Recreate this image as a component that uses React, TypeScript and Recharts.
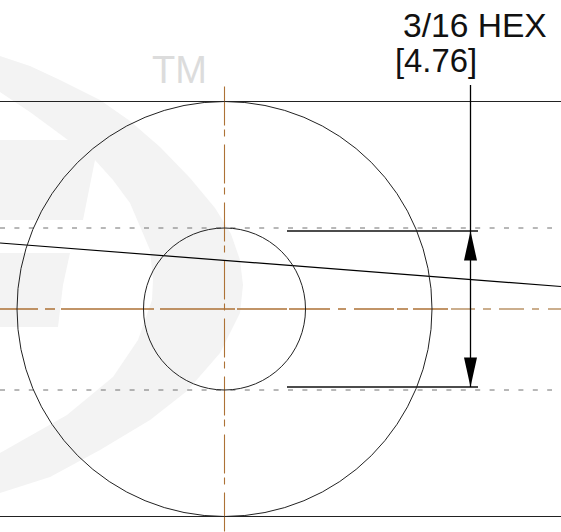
import { ScatterChart, Scatter, XAxis, YAxis, ReferenceDot } from 'recharts';

type Pt = { x: number; y: number; text?: string };

const BLACK = '#222222';
const ORANGE = '#ad7236';
const TAN = '#bb9468';

// watermark outlines
const swooshOutline: Pt[] = [
  { x: 0, y: 56 }, { x: 30, y: 66 }, { x: 60, y: 80 }, { x: 100, y: 100 }, { x: 130, y: 121 },
  { x: 160, y: 147 }, { x: 190, y: 178 }, { x: 215, y: 208 }, { x: 231, y: 234 }, { x: 240, y: 260 },
  { x: 243, y: 285 }, { x: 240, y: 313 }, { x: 220, y: 353 }, { x: 187, y: 391 }, { x: 150, y: 420 },
  { x: 100, y: 450 }, { x: 50, y: 477 }, { x: 0, y: 493 }, { x: 0, y: 453 }, { x: 67, y: 415 },
  { x: 113, y: 377 }, { x: 138, y: 340 }, { x: 152, y: 300 }, { x: 153, y: 280 }, { x: 150, y: 250 },
  { x: 130, y: 203 }, { x: 113, y: 180 }, { x: 95, y: 160 }, { x: 83, y: 220 }, { x: 0, y: 220 },
  { x: 0, y: 140 }, { x: 68, y: 140 }, { x: 30, y: 112 }, { x: 0, y: 92 },
];
const lowerBlock: Pt[] = [
  { x: 0, y: 253 }, { x: 70, y: 253 }, { x: 63, y: 285 }, { x: 58, y: 327 }, { x: 0, y: 327 },
];

// solid lines
const topLine: Pt[] = [{ x: 0, y: 101.5 }, { x: 561, y: 101.5 }];
const bottomLine: Pt[] = [{ x: 0, y: 516.5 }, { x: 561, y: 516.5 }];
const slantLine: Pt[] = [{ x: 0, y: 243 }, { x: 561, y: 286.5 }];
const upperDimLine: Pt[] = [{ x: 287, y: 231 }, { x: 478, y: 231 }];
const lowerDimLine: Pt[] = [{ x: 287, y: 387 }, { x: 478, y: 387 }];
const dimLeader: Pt[] = [{ x: 470.5, y: 85 }, { x: 470.5, y: 387 }];

// hidden edge lines
const upperHidden: Pt[] = [{ x: 0, y: 228 }, { x: 552, y: 228 }];
const lowerHidden: Pt[] = [{ x: 0, y: 390 }, { x: 552, y: 390 }];

// centre lines
const verticalCentre: Pt[] = [{ x: 224.5, y: 86.5 }, { x: 224.5, y: 532 }];
const horizontalCentreLeft: Pt[] = [{ x: 0, y: 309 }, { x: 448, y: 309 }];
const horizontalCentreRight: Pt[] = [{ x: 451, y: 309 }, { x: 561, y: 309 }];

// arrow heads
const upperArrow: Pt[] = [{ x: 470.5, y: 231 }, { x: 477, y: 260.5 }, { x: 464, y: 260.5 }];
const lowerArrow: Pt[] = [{ x: 470.5, y: 387 }, { x: 477, y: 357.5 }, { x: 464, y: 357.5 }];

// circles
const hub = { x: 224.5, y: 309 };
const outerRadius = 207.5;
const innerRadius = 81;

// labels
const hexLabel: Pt[] = [{ x: 403, y: 37, text: '3/16 HEX' }];
const metricLabel: Pt[] = [{ x: 395, y: 72, text: '[4.76]' }];
const tmLabel: Pt[] = [{ x: 152, y: 83, text: 'TM' }];

const noMarker = () => <g />;

const textMarker = (size: number, fill: string, spacing: number) => (p: any) => (
  <text
    x={p.cx}
    y={p.cy}
    fontFamily="Liberation Sans, Arial, sans-serif"
    fontSize={size}
    fill={fill}
    letterSpacing={spacing}
  >
    {p.payload.text}
  </text>
);

function stroke(data: Pt[], color: string, width: number, dash?: string) {
  return (
    <Scatter
      data={data}
      isAnimationActive={false}
      shape={noMarker}
      line={{ stroke: color, strokeWidth: width, strokeDasharray: dash, fill: 'none' }}
    />
  );
}

function filled(data: Pt[], color: string) {
  return (
    <Scatter
      data={data}
      isAnimationActive={false}
      shape={noMarker}
      line={{ stroke: 'none', fill: color }}
    />
  );
}

export default function App() {
  return (
    <div style={{ position: 'absolute', left: 0, top: 0, width: 561, height: 532 }}>
      <ScatterChart width={561} height={532} margin={{ top: 0, right: 0, bottom: 0, left: 0 }}>
        <XAxis type="number" dataKey="x" domain={[0, 561]} hide />
        <YAxis type="number" dataKey="y" domain={[0, 532]} reversed hide />
        {filled(swooshOutline, '#f3f3f3')}
        {filled(lowerBlock, '#f3f3f3')}
        {stroke(upperHidden, '#707070', 1, '5 9.4')}
        {stroke(lowerHidden, '#707070', 1, '5 9.4')}
        {stroke(topLine, BLACK, 1)}
        {stroke(bottomLine, BLACK, 1)}
        {stroke(verticalCentre, ORANGE, 1.1, '39 4 7 8')}
        {stroke(horizontalCentreLeft, ORANGE, 1.6, '38 7 10 6 93 6 75 2 50 2 41 8 8 8 40 3 11 5 35')}
        {stroke(horizontalCentreRight, TAN, 1.6, '24 8 8 8 25 8 7 9 13')}
        {stroke(slantLine, '#000000', 1.2)}
        {stroke(upperDimLine, '#111111', 1.3)}
        {stroke(lowerDimLine, '#111111', 1.3)}
        {stroke(dimLeader, '#000000', 1.3)}
        {filled(upperArrow, '#000000')}
        {filled(lowerArrow, '#000000')}
        <ReferenceDot x={hub.x} y={hub.y} r={outerRadius} fill="none" stroke={BLACK} strokeWidth={1} />
        <ReferenceDot x={hub.x} y={hub.y} r={innerRadius} fill="none" stroke={BLACK} strokeWidth={1} />
        <Scatter data={hexLabel} isAnimationActive={false} shape={textMarker(33.6, '#111111', 0)} />
        <Scatter data={metricLabel} isAnimationActive={false} shape={textMarker(32.8, '#111111', 0)} />
        <Scatter data={tmLabel} isAnimationActive={false} shape={textMarker(38, '#dcdcdc', 0)} />
      </ScatterChart>
    </div>
  );
}
